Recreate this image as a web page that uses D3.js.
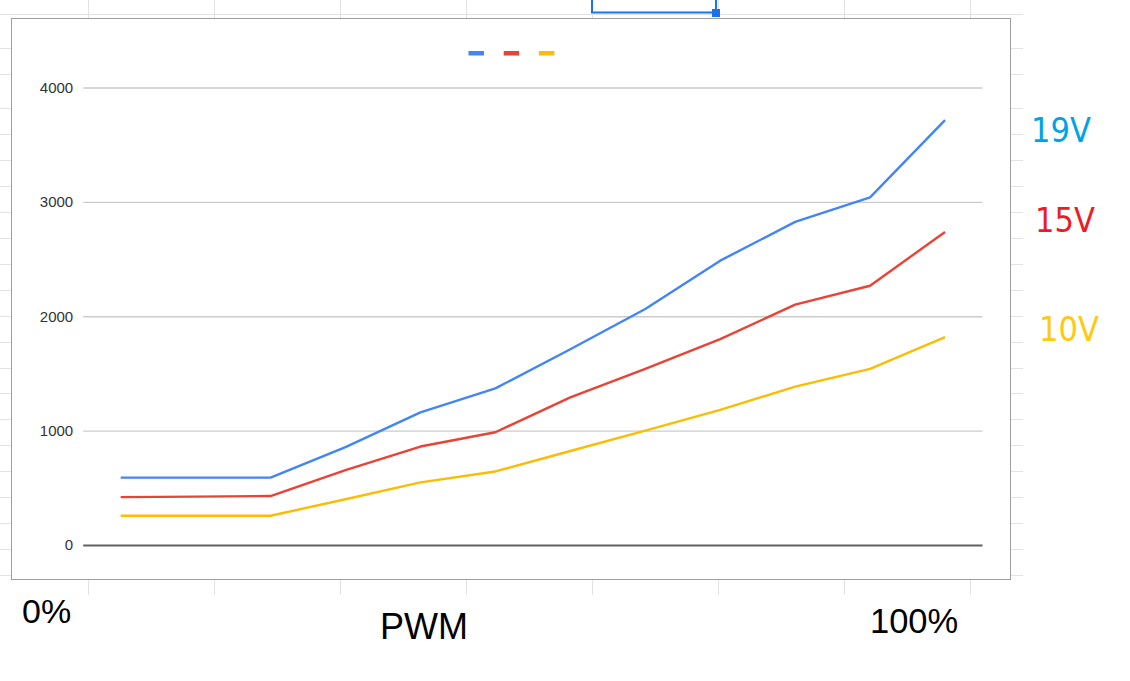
<!DOCTYPE html>
<html>
<head>
<meta charset="utf-8">
<script src="https://cdn.jsdelivr.net/npm/d3@7"></script>
<style>
  html, body { margin: 0; padding: 0; background: #ffffff; }
  svg { display: block; }
</style>
</head>
<body>
<svg id="chart" width="1130" height="681"></svg>
<script>
// ---- data ----
const categories = ["1", "2", "3", "4", "5", "6", "7", "8", "9", "10", "11", "12"];
const series19V = [589, 589, 589, 855, 1160, 1369, 1712, 2063, 2486, 2825, 3040, 3714];
const series15V = [419, 423, 428, 655, 861, 986, 1290, 1540, 1800, 2101, 2267, 2737];
const series10V = [256, 256, 256, 400, 548, 643, 822, 1000, 1181, 1385, 1540, 1818];
const seriesNames = ["19V", "15V", "10V"];
const yTicks = [0, 1000, 2000, 3000, 4000];
const xEndLabels = ["0%", "100%"];
const xTitle = "PWM";

// ---- styles ----
const lineColors = ["#4285f4", "#ea4335", "#fbbc04"];
const noteColors = ["#00a2e8", "#ed1c24", "#ffc90e"];

const svg = d3.select("#chart");
svg.append("rect").attr("width", 1130).attr("height", 681).attr("fill", "#ffffff");

// ---- spreadsheet background grid ----
const sheet = svg.append("g");
const colLines = [88, 214, 340, 466, 592, 718, 844, 970];
const rowLines = [14, 48, 74, 108];
for (let y = 134; y <= 576; y += 25.95) rowLines.push(y);
sheet.selectAll("line.col").data(colLines).join("line")
  .attr("x1", d => d + 0.5).attr("x2", d => d + 0.5)
  .attr("y1", 0).attr("y2", 595)
  .attr("stroke", "#e2e2e2").attr("stroke-width", 1);
sheet.selectAll("line.row").data(rowLines).join("line")
  .attr("x1", 0).attr("x2", 1023)
  .attr("y1", d => Math.round(d) + 0.5).attr("y2", d => Math.round(d) + 0.5)
  .attr("stroke", "#e2e2e2").attr("stroke-width", 1);

// selection box at top
const sel = svg.append("g");
sel.append("path").attr("d", "M592,0 V12.5 H716 V0")
  .attr("fill", "none").attr("stroke", "#1a73e8").attr("stroke-width", 2);
sel.append("rect").attr("x", 712).attr("y", 9).attr("width", 8).attr("height", 8)
  .attr("fill", "#1a73e8");

// ---- chart frame ----
svg.append("rect")
  .attr("x", 11.5).attr("y", 18.5).attr("width", 999).attr("height", 561)
  .attr("fill", "#ffffff").attr("stroke", "#9e9e9e").attr("stroke-width", 1);

// ---- scales ----
const plotLeft = 83.2, plotRight = 982.5;
const x = d3.scalePoint().domain(categories).range([plotLeft, plotRight]).padding(0.5);
const y = d3.scaleLinear().domain([0, 4000]).range([545, 87.5]);

// gridlines + labels via axis
const yAxis = d3.axisLeft(y).tickValues(yTicks).tickSize(-(plotRight - plotLeft)).tickPadding(10)
  .tickFormat(d3.format("d"));
const gAxis = svg.append("g").attr("transform", `translate(${plotLeft},0)`).call(yAxis);
gAxis.select(".domain").remove();
gAxis.selectAll(".tick line")
  .attr("stroke", d => d === 0 ? "#616161" : "#cccccc")
  .attr("stroke-width", d => d === 0 ? 2 : 1.4);
gAxis.selectAll(".tick text")
  .attr("fill", "#333333")
  .attr("font-family", "'Liberation Sans', Arial, sans-serif")
  .attr("font-size", 15)
  .attr("x", -10);

// ---- lines ----
const allSeries = [series19V, series15V, series10V];
const line = d3.line().x((d, i) => x(categories[i])).y(d => y(d));
svg.append("g").selectAll("path").data(allSeries).join("path")
  .attr("d", d => line(d))
  .attr("fill", "none")
  .attr("stroke", (d, i) => lineColors[i])
  .attr("stroke-width", 2.4)
  .attr("stroke-linejoin", "round");

// ---- legend (markers only) ----
const legend = svg.append("g");
legend.selectAll("rect").data(seriesNames).join("rect")
  .attr("x", (d, i) => 468.5 + i * 35.2)
  .attr("y", 51)
  .attr("width", 15.5).attr("height", 4.5)
  .attr("fill", (d, i) => lineColors[i]);

// ---- annotations ----
const noteY = [142, 232, 341];
const noteX = [1031, 1035, 1039];
svg.append("g").selectAll("text").data(seriesNames).join("text")
  .attr("x", (d, i) => noteX[i]).attr("y", (d, i) => noteY[i])
  .attr("fill", (d, i) => noteColors[i])
  .attr("font-family", "'DejaVu Sans Condensed', 'DejaVu Sans', sans-serif")
  .attr("font-stretch", "condensed")
  .attr("font-size", 34)
  .text(d => d);

const blackFont = "'Liberation Sans', Arial, sans-serif";
svg.append("text").attr("x", 22).attr("y", 623).attr("font-family", blackFont)
  .attr("font-size", 34).attr("fill", "#000").text(xEndLabels[0]);
svg.append("text").attr("x", 380).attr("y", 639).attr("font-family", blackFont)
  .attr("font-size", 36).attr("fill", "#000").text(xTitle);
svg.append("text").attr("x", 870).attr("y", 633).attr("font-family", blackFont)
  .attr("font-size", 34.5).attr("fill", "#000").text(xEndLabels[1]);
</script>
</body>
</html>
